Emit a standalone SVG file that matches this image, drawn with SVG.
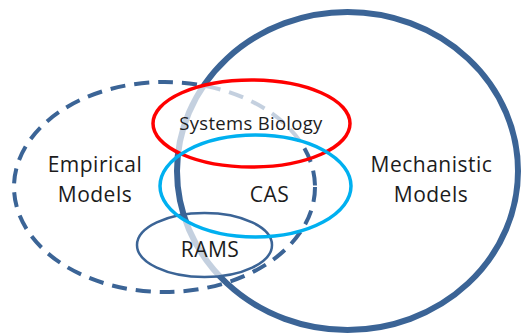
<svg xmlns="http://www.w3.org/2000/svg" width="521" height="335" viewBox="0 0 521 335">
  <style>
    .label { font-family: "Open Sans", "Liberation Sans", sans-serif; fill: #1c1c1c; text-anchor: middle; }
    .big { font-size: 21px; letter-spacing: 0.5px; }
    .small { font-size: 18.5px; letter-spacing: 0.3px; }
    .navy { fill: none; stroke: #3b6496; }
  </style>
  <defs>
    <!-- fade region: inside Systems Biology or RAMS, but not inside CAS -->
    <mask id="fade" maskUnits="userSpaceOnUse" x="0" y="0" width="521" height="335">
      <ellipse cx="251.5" cy="123.5" rx="98.5" ry="43.5" fill="#fff"/>
      <ellipse cx="204.5" cy="245" rx="67.5" ry="32" fill="#fff"/>
      <ellipse cx="255.5" cy="186" rx="95.5" ry="51" fill="#000"/>
    </mask>
  </defs>
  <rect width="521" height="335" fill="#fff"/>

  <g id="empirical">
    <ellipse class="navy" cx="164.5" cy="187" rx="150.5" ry="105" stroke-width="4" stroke-dasharray="15 9"/>
  </g>
  <g id="mechanistic">
    <ellipse class="navy" cx="347.5" cy="171" rx="170.5" ry="159" stroke-width="6"/>
  </g>

  <g id="fade-layer">
    <rect width="521" height="335" fill="#fff" opacity="0.7" mask="url(#fade)"/>
  </g>

  <g id="rams">
    <ellipse class="navy" cx="204.5" cy="245" rx="67.5" ry="32" stroke-width="2.5"/>
  </g>
  <g id="systems-biology">
    <ellipse cx="251.5" cy="123.5" rx="98.5" ry="43.5" fill="none" stroke="#ff0000" stroke-width="3.5"/>
  </g>
  <g id="cas">
    <ellipse cx="255.5" cy="186" rx="95.5" ry="51" fill="none" stroke="#00b0f0" stroke-width="3.5"/>
  </g>

  <g id="labels">
    <text class="label small" x="251" y="130">Systems Biology</text>
    <text class="label big" x="95" y="172">Empirical</text>
    <text class="label big" x="95" y="202">Models</text>
    <text class="label big" x="431.5" y="172">Mechanistic</text>
    <text class="label big" x="431" y="202">Models</text>
    <text class="label big" x="269.5" y="202">CAS</text>
    <text class="label big" x="210" y="257">RAMS</text>
  </g>
</svg>
